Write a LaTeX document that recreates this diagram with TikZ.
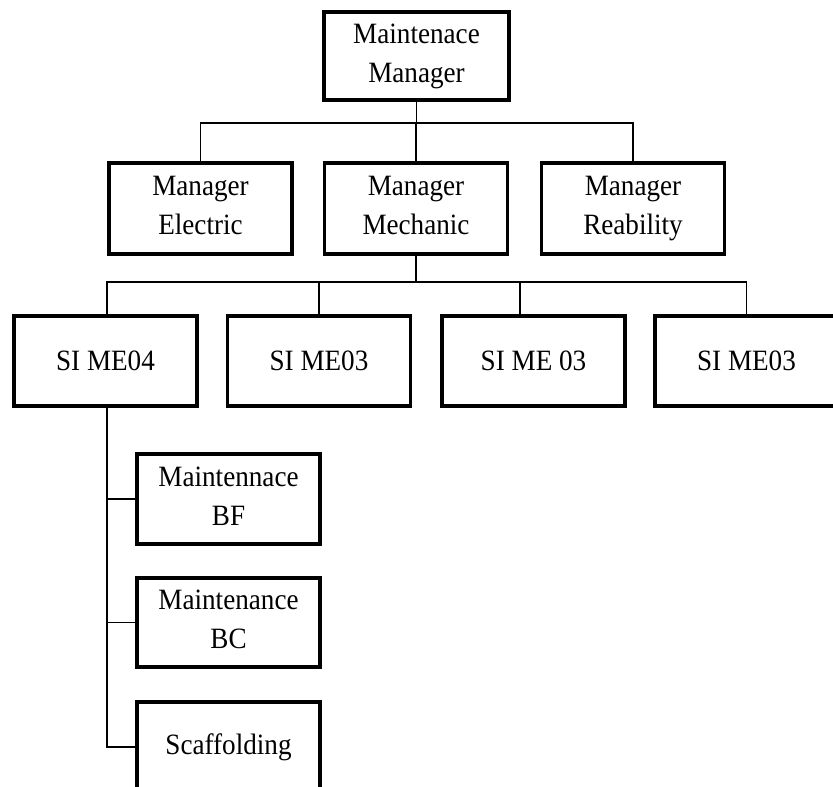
\documentclass[tikz,border=0pt]{standalone}
\usepackage{fontspec}
\setmainfont{Liberation Serif}[FakeStretch=0.92]
\newcommand{\dsc}{\vphantom{y}}
\begin{document}
\begin{tikzpicture}[x=1pt,y=-1pt,
  box/.style={draw=black,line width=3.4pt,fill=white,minimum width=183pt,minimum height=91pt,inner sep=0pt,align=center,font=\fontsize{29.5}{39}\selectfont},
  link/.style={draw=black,line width=1.4pt}]
\useasboundingbox (0,0) rectangle (833,787);
\clip (0,0) rectangle (833,787);
\fill[white] (0,0) rectangle (833,787);
% nodes
\node[box,minimum width=185pt,minimum height=88pt] (top) at (416.5,56) {Maintenace\\Manager};
\node[box] (elec) at (200.5,208.5) {Manager\\Electric\dsc};
\node[box] (mech) at (416,208.5) {Manager\\Mechanic\dsc};
\node[box] (reab) at (633,208.5) {Manager\\Reability};
\node[box,minimum height=90pt] (s1) at (105.5,361) {SI ME04};
\node[box,minimum height=90pt] (s2) at (319,361) {SI ME03};
\node[box,minimum height=90pt] (s3) at (533.5,361) {SI ME 03};
\node[box,minimum height=90pt] (s4) at (746.5,361) {SI ME03};
\node[box,minimum height=90pt] (bf) at (228.5,499) {Maintennace\\BF\dsc};
\node[box,minimum height=89pt] (bc) at (228.5,622.5) {Maintenance\\BC\dsc};
\node[box,minimum height=90pt] (sc) at (228.5,747) {Scaffolding};
% bus coordinates
\coordinate (busA) at (0,123);
\coordinate (busB) at (0,282);
\coordinate (s3in) at (520,316);
\coordinate (spine) at (107,0);
% connectors level 1 -> 2
\draw[link] (top.south) -- (top.south |- busA);
\draw[link] (elec.north) -- (elec.north |- busA) -- (reab.north |- busA) -- (reab.north);
\draw[link] (mech.north) -- (mech.north |- busA);
% connectors level 2 -> 3
\draw[link] (mech.south) -- (mech.south |- busB);
\draw[link] (s1.north -| spine) -- (spine |- busB) -- (s4.north |- busB) -- (s4.north);
\draw[link] (s2.north) -- (s2.north |- busB);
\draw[link] (s3in) -- (s3in |- busB);
% connectors level 3 -> 4
\draw[link] (s1.south -| spine) -- (spine |- sc.west) -- (sc.west);
\draw[link] (spine |- bf.west) -- (bf.west);
\draw[link] (spine |- bc.west) -- (bc.west);
\end{tikzpicture}
\end{document}
